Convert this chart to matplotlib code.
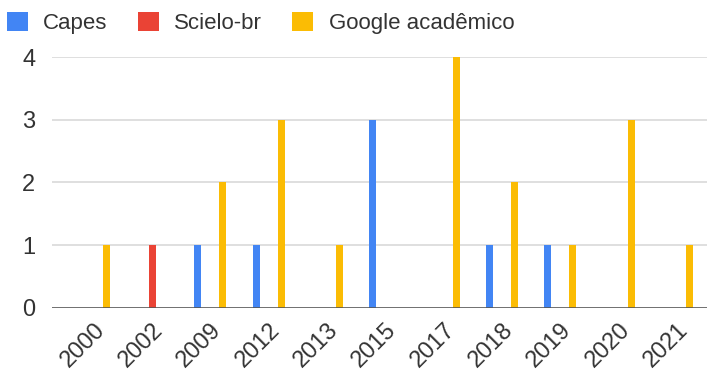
import matplotlib
matplotlib.use("Agg")
import matplotlib.pyplot as plt
from matplotlib.patches import Patch
import numpy as np

years = ["2000", "2002", "2009", "2012", "2013", "2015", "2017", "2018", "2019", "2020", "2021"]
capes = [0, 0, 1, 1, 0, 3, 0, 1, 1, 0, 0]
scielo = [0, 1, 0, 0, 0, 0, 0, 0, 0, 0, 0]
google = [1, 0, 2, 3, 1, 0, 4, 2, 1, 3, 1]
series_names = ["Capes", "Scielo-br", "Google acadêmico"]
colors = ["#4285F4", "#EA4335", "#FBBC04"]
yticks = [0, 1, 2, 3, 4]

plt.rcParams['font.family'] = ['Liberation Sans', 'DejaVu Sans']
text_color = "#333333"

fig = plt.figure(figsize=(7.07, 3.73), dpi=100)
ax = fig.add_axes([52/707, 65.3/373, 655/707, 250.7/373])

x = np.arange(len(years))
offset = 0.214
width = 0.12
for vals, off, col in zip([capes, scielo, google], [-offset, 0, offset], colors):
    ax.bar(x + off, vals, width=width, color=col, zorder=3, clip_on=False)

ax.set_xlim(-0.715, 10.514)
ax.set_ylim(0, 4)
ax.set_yticks(yticks)
ax.set_yticklabels([str(t) for t in yticks])
ax.set_xticks(x)
ax.set_xticklabels(years, rotation=45, ha='right', va='top', rotation_mode='anchor')

for t in yticks[1:]:
    ax.axhline(t, color="#dcdcdc", lw=1.3, zorder=1)
ax.axhline(0, color="#555555", lw=1.9, zorder=4)

for s in ax.spines.values():
    s.set_visible(False)
ax.tick_params(axis='both', length=0, labelsize=17, colors=text_color)
ax.tick_params(axis='y', pad=12)
ax.tick_params(axis='x', pad=8)

handles = [Patch(facecolor=c, edgecolor='none') for c in colors]
fig.legend(handles, series_names, loc='center left', bbox_to_anchor=(0.0, 0.938),
           ncol=3, frameon=False, fontsize=16, handlelength=0.95, handleheight=0.95,
           handletextpad=0.7, columnspacing=1.35, labelcolor=text_color,
           borderaxespad=0, borderpad=0.3)

fig.savefig("out.png", dpi=100)
